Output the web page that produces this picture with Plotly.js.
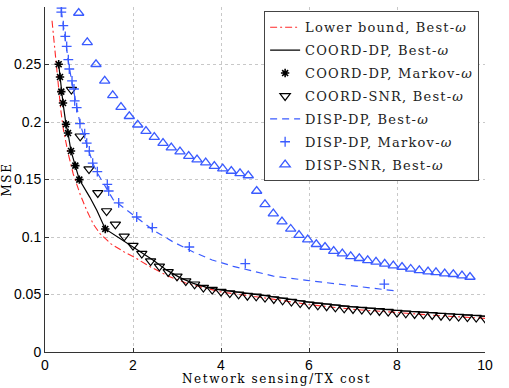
<!DOCTYPE html>
<html>
<head>
<meta charset="utf-8">
<script src="https://cdn.plot.ly/plotly-3.0.1.min.js"></script>
<style>
html,body{margin:0;padding:0;background:#fff;}
#chart{width:509px;height:388px;}
.legendtext{letter-spacing:1.2px;}
.ytitle{letter-spacing:1.6px;}
.annotation-text{letter-spacing:1.6px;}
</style>
</head>
<body>
<div id="chart"></div>
<script>
// ---- data ----
const lbX = [0.16,0.20,0.27,0.36,0.42,0.53,0.64,0.80,0.95,1.10,1.25,1.50,1.80,2.00,2.40,2.80,3.20,3.60,4.00,5.00,6.00,7.00,8.00,9.00,10.00];
const lbY = [0.288,0.272,0.250,0.210,0.193,0.172,0.155,0.137,0.123,0.111,0.103,0.094,0.087,0.083,0.074,0.066,0.060,0.0562,0.0522,0.0470,0.0412,0.0371,0.0341,0.0315,0.0292];

const cdpX = [0.311,0.341,0.370,0.409,0.477,0.523,0.591,0.689,0.780,1.02,1.18,1.370,2.0,2.234,2.461,2.766,3.068,3.37,3.675,3.977,4.28,4.66,5.0,6.0,7.0,8.0,9.0,10.0];
const cdpY = [0.2502,0.2391,0.2264,0.2165,0.1980,0.1904,0.1748,0.1621,0.1499,0.1345,0.1230,0.1070,0.0913,0.0856,0.0797,0.0712,0.0647,0.0597,0.0562,0.0540,0.0527,0.0508,0.0491,0.0433,0.0392,0.0361,0.0334,0.0311];

const cmkX = [0.311,0.341,0.370,0.409,0.477,0.523,0.591,0.689,0.780,1.370];
const cmkY = [0.2502,0.2391,0.2264,0.2165,0.1980,0.1904,0.1748,0.1621,0.1499,0.1070];

const csnrX = [0.6,0.8,1.0,1.2,1.4,1.6,1.8,2.0,2.2,2.4,2.6,2.8,3.0,3.2,3.4,3.6,3.8,4.0,4.2,4.4,4.6,4.8,5.0,5.2,5.4,5.6,5.8,6.0,6.2,6.4,6.6,6.8,7.0,7.2,7.4,7.6,7.8,8.0,8.2,8.4,8.6,8.8,9.0,9.2,9.4,9.6,9.8,10.0];
const csnrY = [0.2282,0.1876,0.1591,0.1383,0.1226,0.1110,0.1006,0.0925,0.0856,0.0791,0.0745,0.0696,0.0658,0.0617,0.0589,0.0560,0.0543,0.0525,0.0513,0.0502,0.0490,0.0484,0.0473,0.0461,0.0450,0.0438,0.0426,0.0415,0.0406,0.0398,0.0389,0.0380,0.0374,0.0369,0.0363,0.0357,0.0351,0.0343,0.0337,0.0331,0.0328,0.0322,0.0316,0.0313,0.0308,0.0304,0.0299,0.0293];

const ddpX = [0.37,0.42,0.47,0.53,0.60,0.68,0.80,0.90,1.00,1.10,1.20,1.35,1.55,1.80,2.00,2.46,2.90,3.37,3.80,4.28,4.66,5.19,5.95,6.70,7.46,8.00];
const ddpY = [0.297,0.282,0.268,0.253,0.237,0.220,0.198,0.186,0.174,0.163,0.155,0.145,0.1325,0.125,0.119,0.106,0.096,0.087,0.080,0.0745,0.0710,0.0660,0.0623,0.0589,0.0560,0.0530];

const dmkX = [0.375,0.370,0.416,0.461,0.493,0.530,0.552,0.614,0.659,0.675,0.720,0.795,0.902,0.948,1.007,1.084,1.189,1.416,1.448,1.675,2.084,2.439,3.280,4.552,7.711];
const dmkY = [0.2990,0.2955,0.2838,0.2745,0.2658,0.2543,0.2461,0.2357,0.2287,0.2183,0.2125,0.1986,0.1899,0.1817,0.1748,0.1643,0.1569,0.1458,0.1400,0.1296,0.1174,0.1082,0.0913,0.0769,0.0591];

const dsnrX = [0.766,0.961,1.159,1.357,1.539,1.727,1.916,2.107,2.295,2.484,2.682,2.870,3.068,3.266,3.455,3.652,3.848,4.039,4.234,4.432,4.620,4.811,5.000,5.189,5.386,5.584,5.773,5.970,6.166,6.364,6.561,6.757,6.948,7.143,7.334,7.523,7.720,7.916,8.114,8.311,8.507,8.705,8.886,9.084,9.280,9.477,9.659];
const dsnrY = [0.2948,0.2693,0.2502,0.2357,0.2232,0.2130,0.2050,0.1976,0.1921,0.1869,0.1817,0.1777,0.1743,0.1704,0.1673,0.1647,0.1617,0.1595,0.1574,0.1554,0.1535,0.1400,0.1284,0.1203,0.1134,0.1070,0.1017,0.0977,0.0937,0.0913,0.0878,0.0856,0.0832,0.0815,0.0797,0.0784,0.0767,0.0751,0.0739,0.0722,0.0710,0.0699,0.0693,0.0682,0.0676,0.0664,0.0652];

const names = ['Lower bound, Best-<i>ω</i>','COORD-DP, Best-<i>ω</i>','COORD-DP, Markov-<i>ω</i>','COORD-SNR, Best-<i>ω</i>','DISP-DP, Best-<i>ω</i>','DISP-DP, Markov-<i>ω</i>','DISP-SNR, Best-<i>ω</i>'];
const xTicks = [0,2,4,6,8,10];
const yTicks = [0,0.05,0.1,0.15,0.2,0.25];
const yTickText = ['0','0.05','0.1','0.15','0.2','0.25'];

const BLUE = '#3a5bff';
const traces = [
  {x:lbX,y:lbY,mode:'lines',name:names[0],legendgroup:'g1',line:{color:'#ff2a2a',width:1.1,dash:'7px,3px,2px,3px'}},
  {x:cdpX,y:cdpY,mode:'lines',name:names[1],legendgroup:'g2',line:{color:'#000',width:1.2}},
  {x:cmkX,y:cmkY,mode:'markers',name:names[2],legendgroup:'g3',marker:{symbol:'asterisk-open',size:7,color:'#000',line:{color:'#000',width:1.6}}},
  {x:csnrX,y:csnrY,mode:'markers',name:names[3],legendgroup:'g4',marker:{symbol:'triangle-down-open',size:9,color:'#000',line:{color:'#000',width:1.2}}},
  {x:ddpX,y:ddpY,mode:'lines',name:names[4],legendgroup:'g5',line:{color:BLUE,width:1.2,dash:'7px,5px'}},
  {x:dmkX,y:dmkY,mode:'markers',name:names[5],legendgroup:'g6',marker:{symbol:'cross-thin-open',size:7,color:BLUE,line:{color:BLUE,width:1.3}}},
  {x:dsnrX,y:dsnrY,mode:'markers',name:names[6],legendgroup:'g7',marker:{symbol:'triangle-up-open',size:9,color:BLUE,line:{color:BLUE,width:1.3}}}
];

const tickFont = {family:'Liberation Sans, Arial, sans-serif',size:14,color:'#000'};
const serif = {family:'DejaVu Serif, serif',size:12,color:'#000'};

const layout = {
  width:509,height:388,
  margin:{l:45,r:24,t:7,b:36},
  paper_bgcolor:'#fff',plot_bgcolor:'#fff',
  showlegend:true,
  xaxis:{range:[0,10],tickvals:xTicks,ticktext:xTicks.map(String),tickfont:tickFont,
    showgrid:true,gridcolor:'#c8c8c8',griddash:'dot',gridwidth:1,zeroline:false,
    showline:true,linecolor:'#333',linewidth:1,ticks:'inside',ticklen:4,tickcolor:'#333'},
  yaxis:{range:[0,0.3],tickvals:yTicks,ticktext:yTickText,tickfont:tickFont,
    showgrid:true,gridcolor:'#c8c8c8',griddash:'dot',gridwidth:1,zeroline:false,
    showline:true,linecolor:'#333',linewidth:1,ticks:'inside',ticklen:4,tickcolor:'#333',
    title:{text:'MSE',font:serif,standoff:6}},
  annotations:[{text:'Network sensing/TX cost',xref:'paper',yref:'paper',x:0.527,y:-0.077,
    xanchor:'center',yanchor:'middle',showarrow:false,font:serif}],
  legend:{x:0.498,y:0.9875,xanchor:'left',yanchor:'top',bgcolor:'#fff',bordercolor:'#444',borderwidth:1,
    font:{family:'DejaVu Serif, serif',size:13,color:'#222'},traceorder:'grouped',tracegroupgap:3}
};

Plotly.newPlot('chart',traces,layout,{displayModeBar:false,staticPlot:true});
</script>
</body>
</html>
